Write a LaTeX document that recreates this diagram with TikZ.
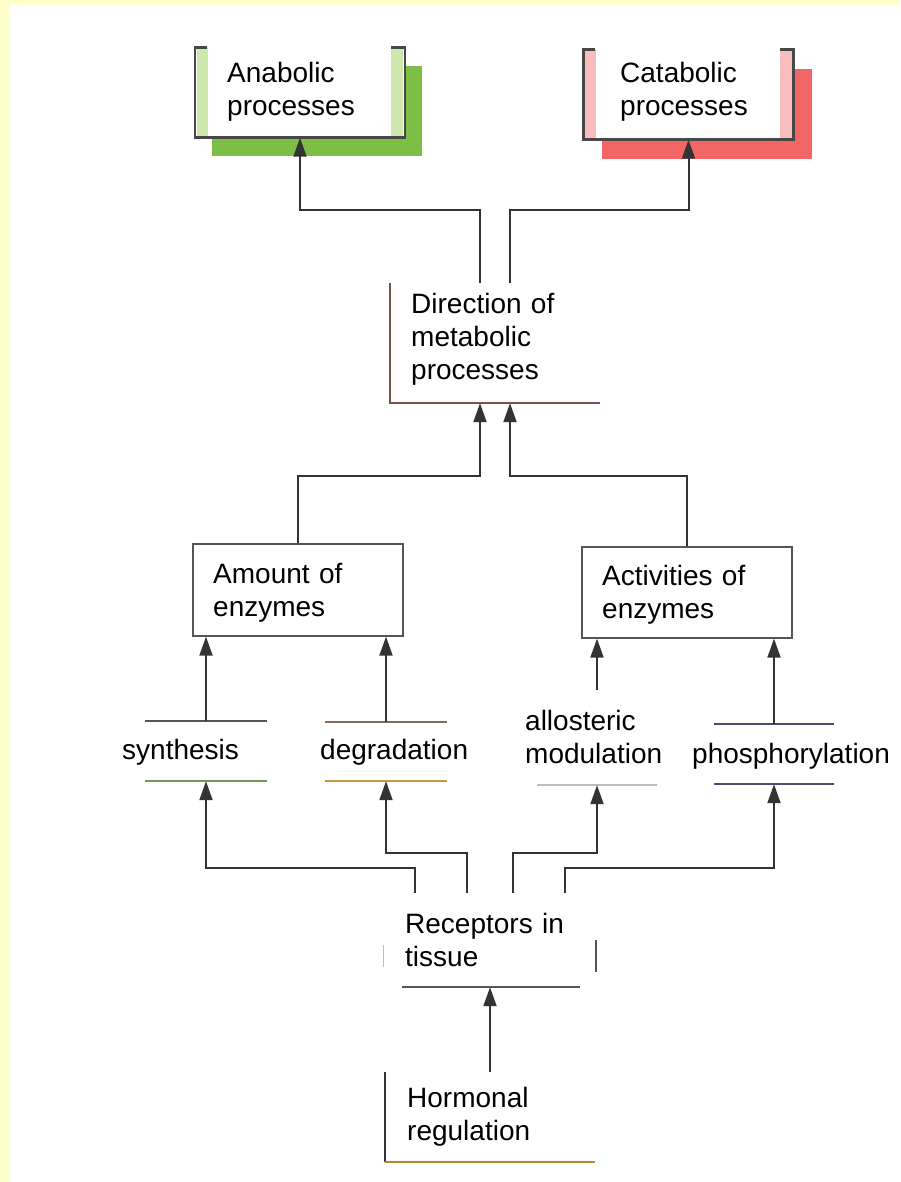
\documentclass[tikz,border=0pt]{standalone}
\usepackage{fontspec}
\setmainfont{Liberation Sans}
\usetikzlibrary{positioning}
\usetikzlibrary{arrows.meta}
\usetikzlibrary{shadows}
\definecolor{paleyellow}{HTML}{FFFFCC}
\definecolor{anagreen}{HTML}{7DBF45}
\definecolor{analight}{HTML}{CFE8AE}
\definecolor{catred}{HTML}{F26666}
\definecolor{catlight}{HTML}{F9BDBD}
\definecolor{dirbrown}{HTML}{7A5048}
\definecolor{edgegray}{HTML}{333333}
\definecolor{bargray}{HTML}{555555}
\definecolor{bargreen}{HTML}{6E9A58}
\definecolor{barbrown}{HTML}{8A6A52}
\definecolor{barorange}{HTML}{C8963C}
\definecolor{barpale}{HTML}{BBBBBB}
\definecolor{barpurple}{HTML}{4A4A72}
\definecolor{hormgold}{HTML}{B08A34}
\tikzset{
every node/.style={ % Sets the font for all texts
font=\fontsize{28}{33}\selectfont,
inner sep=0pt},
txt/.style={anchor=base west, text width=200pt, align=left},
box/.style={minimum width=210pt, minimum height=90pt, fill=white},
anashadow/.style={drop shadow={shadow xshift=17pt, shadow yshift=-19pt, fill=anagreen, opacity=1}},
catshadow/.style={drop shadow={shadow xshift=18pt, shadow yshift=-20pt, fill=catred, opacity=1}},
bracket/.style={draw=edgegray!90, line width=2.5pt}, % Open top of the result boxes
frame/.style={draw=bargray, line width=1.3pt},
barline/.style={line width=2pt},
bar/.style={minimum width=122pt, minimum height=60pt},
arr/.style={ % Sets the properties for each connector
draw=edgegray,
line width=2pt,
-{Triangle[length=19pt, width=13pt]}}}

\begin{document}
\begin{tikzpicture}[x=1pt, y=-1pt]
\useasboundingbox (0,0) rectangle (900,1182);
\fill[white] (0,0) rectangle (900,1182);
\fill[paleyellow] (0,0) rectangle (10,1182);
\fill[paleyellow] (0,0) rectangle (900,5);
% results
\node[box, anashadow] (ana) at (300,92.5) {};
\node[box, catshadow] (cat) at (688.5,94.5) {};
\foreach \b/\c in {ana/analight, cat/catlight} {
\fill[\c] ([xshift=2pt]\b.north west) rectangle ([xshift=13pt,yshift=1pt]\b.south west);
\fill[\c] ([xshift=-14pt]\b.north east) rectangle ([xshift=-2pt,yshift=1pt]\b.south east);
\draw[bracket] ([xshift=12pt]\b.north west) -- (\b.north west) -- (\b.south west)
 -- (\b.south east) -- (\b.north east) -- ([xshift=-14pt]\b.north east);
}
\node[txt] (anatxt) at (227,83) {Anabolic\\processes};
\node[txt] (cattxt) at (620,83) {Catabolic\\processes};
% direction
\node[minimum width=210pt, minimum height=120pt] (dir) at (495,343) {};
\draw[draw=dirbrown, line width=1.8pt] (dir.north west) |- (dir.south east);
\node[txt] (dirtxt) at (411,313) {Direction of\\metabolic\\processes};
% enzymes
\node[box, frame, minimum height=92pt] (amt) at (298,590) {};
\node[box, frame, minimum height=91pt] (act) at (687,592.5) {};
\node[txt] (amttxt) at (213,583) {Amount of\\enzymes};
\node[txt] (acttxt) at (602,585) {Activities of\\enzymes};
% mechanisms
\node[bar] (syn) at (206,751) {};
\node[bar, minimum height=59pt] (deg) at (386,751.5) {};
\node[bar, minimum width=120pt, minimum height=95pt] (allo) at (597,737.5) {};
\node[bar, minimum width=120pt] (pho) at (774,754) {};
\foreach \n/\t/\u in {syn/bargray/bargreen, deg/barbrown/barorange, pho/barpurple/barpurple} {
\draw[barline, \t] (\n.north west) -- (\n.north east);
\draw[barline, \u] (\n.south west) -- (\n.south east);
}
\draw[barline, barpale, line width=1.5pt] (allo.south west) -- (allo.south east);
\node[txt] (syntxt) at (122,759) {synthesis};
\node[txt] (degtxt) at (320,759) {degradation};
\node[txt] (allotxt) at (525,730) {allosteric\\modulation};
\node[txt] (photxt) at (692,763) {phosphorylation};
% receptors and hormones
\node[minimum width=212pt, minimum height=94pt] (rec) at (490,940) {};
\draw[bargray, line width=1.8pt] ([xshift=18pt]rec.south west) -- ([xshift=-16pt]rec.south east);
\draw[barpale, line width=1.2pt] ([yshift=-52pt]rec.north west) -- ([yshift=20pt]rec.south west);
\draw[bargray, line width=1.5pt] ([yshift=-47pt]rec.north east) -- ([yshift=15pt]rec.south east);
\node[txt] (rectxt) at (405,933) {Receptors in\\tissue};
\node[minimum width=210pt, minimum height=90pt] (hor) at (490,1117) {};
\draw[edgegray, line width=1.8pt] (hor.north west) -- (hor.south west);
\draw[hormgold, line width=2.5pt] (hor.south west) -- (hor.south east);
\node[txt] (hortxt) at (407,1107) {Hormonal\\regulation};
% connectors
\draw[arr] ([xshift=-15pt]dir.north) -- ++(0,-73) -| (ana.south);
\draw[arr] ([xshift=15pt]dir.north) -- ++(0,-73) -| (cat.south);
\draw[arr] (amt.north) -- ++(0,-67) -| ([xshift=-15pt]dir.south);
\draw[arr] (act.north) -- ++(0,-70) -| ([xshift=15pt]dir.south);
\draw[arr] (syn.north) -- (syn.north |- amt.south);
\draw[arr] (deg.north) -- (deg.north |- amt.south);
\draw[arr] (allo.north) -- (allo.north |- act.south);
\draw[arr] (pho.north) -- (pho.north |- act.south);
\draw[arr] ([xshift=-75pt]rec.north) -- ++(0,-25) -| (syn.south);
\draw[arr] ([xshift=-23pt]rec.north) -- ++(0,-40) -| (deg.south);
\draw[arr] ([xshift=23pt]rec.north) -- ++(0,-40) -| (allo.south);
\draw[arr] ([xshift=75pt]rec.north) -- ++(0,-25) -| (pho.south);
\draw[arr] (hor.north) -- (rec.south);
\end{tikzpicture}
\end{document}
